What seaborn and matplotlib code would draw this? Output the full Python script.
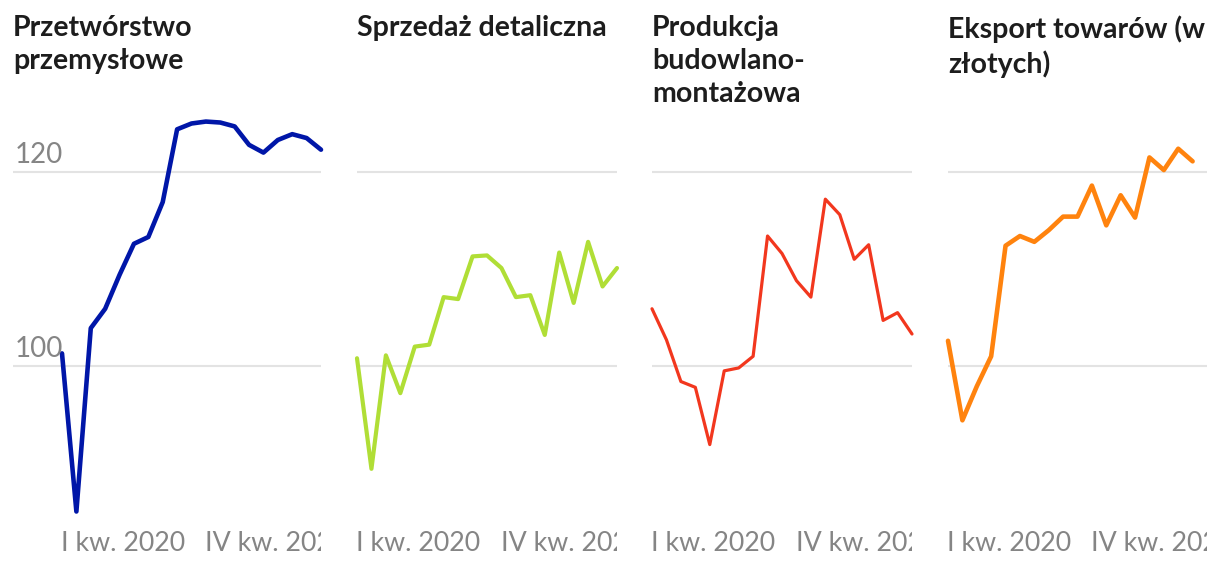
import numpy as np
import matplotlib
matplotlib.use("Agg")
import matplotlib.pyplot as plt
import seaborn as sns

# ==================================================
# DATA (index)
# ==================================================
titles = [
    "Przetwórstwo\nprzemysłowe",
    "Sprzedaż detaliczna",
    "Produkcja\nbudowlano-\nmontażowa",
    "Eksport towarów (w\nzłotych)",
]

przetworstwo = [101.3, 85.0, 103.9, 105.9, 109.4, 112.6, 113.3, 116.9, 124.4, 125.0,
                125.2, 125.1, 124.7, 122.8, 122.0, 123.3, 123.9, 123.5, 122.3]
sprzedaz = [100.8, 89.4, 101.1, 97.2, 102.0, 102.2, 107.1, 106.9, 111.3, 111.4,
            110.1, 107.1, 107.3, 103.2, 111.7, 106.5, 112.8, 108.2, 110.1]
budowlanka = [105.9, 102.7, 98.4, 97.8, 91.9, 99.5, 99.8, 101.0, 113.4, 111.6,
              108.8, 107.1, 117.2, 115.6, 111.0, 112.5, 104.7, 105.5, 103.3]
eksport = [102.6, 94.4, 97.9, 101.0, 112.4, 113.4, 112.8, 114.0, 115.4, 115.4,
           118.6, 114.5, 117.6, 115.3, 121.5, 120.2, 122.4, 121.1]

series = [przetworstwo, sprzedaz, budowlanka, eksport]
colors = ["#0016a8", "#b0de36", "#f2371e", "#ff830e"]
widths = [3.3, 3.0, 2.3, 3.3]

x_ticks = [0, 10]
x_tick_labels = ["I kw. 2020", "IV kw. 2022"]
y_ticks = [100, 120]

# ==================================================
# STYLING
# ==================================================
sns.set_theme(style="white")
plt.rcParams["font.family"] = ["Lato", "DejaVu Sans"]

W, H = 1220, 568
fig = plt.figure(figsize=(W / 100, H / 100), dpi=100)

# panel spans in pixels (left, right)
spans = [(13, 321), (357, 617), (652, 912), (948, 1207)]
top_px, bottom_px = 115, 568
px_per_unit = 9.7
y_hi = 100 + (366 - top_px) / px_per_unit
y_lo = 100 + (366 - bottom_px) / px_per_unit
step = (321 - 62) / 18

for i, (vals, title) in enumerate(zip(series, titles)):
    l, r = spans[i]
    ax = fig.add_axes([l / W, 1 - bottom_px / H, (r - l) / W, (bottom_px - top_px) / H])
    x = np.arange(len(vals))

    for yv in y_ticks:
        ax.axhline(yv, color="#e3e3e3", linewidth=1.5, zorder=1)

    sns.lineplot(x=x, y=vals, ax=ax, color=colors[i], linewidth=widths[i],
                 zorder=3, clip_on=False)
    for line in ax.get_lines():
        line.set_solid_capstyle("round")
        line.set_solid_joinstyle("round")

    x_left = -(62 - 13) / step if i == 0 else 0
    ax.set_xlim(x_left, 18)
    ax.set_ylim(y_lo, y_hi)
    ax.axis("off")

    # x labels, clipped at panel edge
    tr = ax.get_xaxis_transform()
    for xt, lab in zip(x_ticks, x_tick_labels):
        ax.text(xt - 0.05, 0.037, lab, transform=tr, ha="left", va="baseline",
                fontsize=19.3, color="#858585", clip_on=True)

    # y labels only on first panel
    if i == 0:
        ytr = ax.get_yaxis_transform()
        for yv in y_ticks:
            ax.annotate(str(yv), xy=(0.005, yv), xycoords=ytr,
                        xytext=(0, 6.8), textcoords="offset points",
                        ha="left", va="baseline", fontsize=20, color="#858585")

    fig.text(l / W, 1 - 15 / H, title, ha="left", va="top", fontsize=20.5,
             fontweight="bold", color="#1d1d1d", linespacing=1.34)

fig.savefig("out.png", dpi=100)
